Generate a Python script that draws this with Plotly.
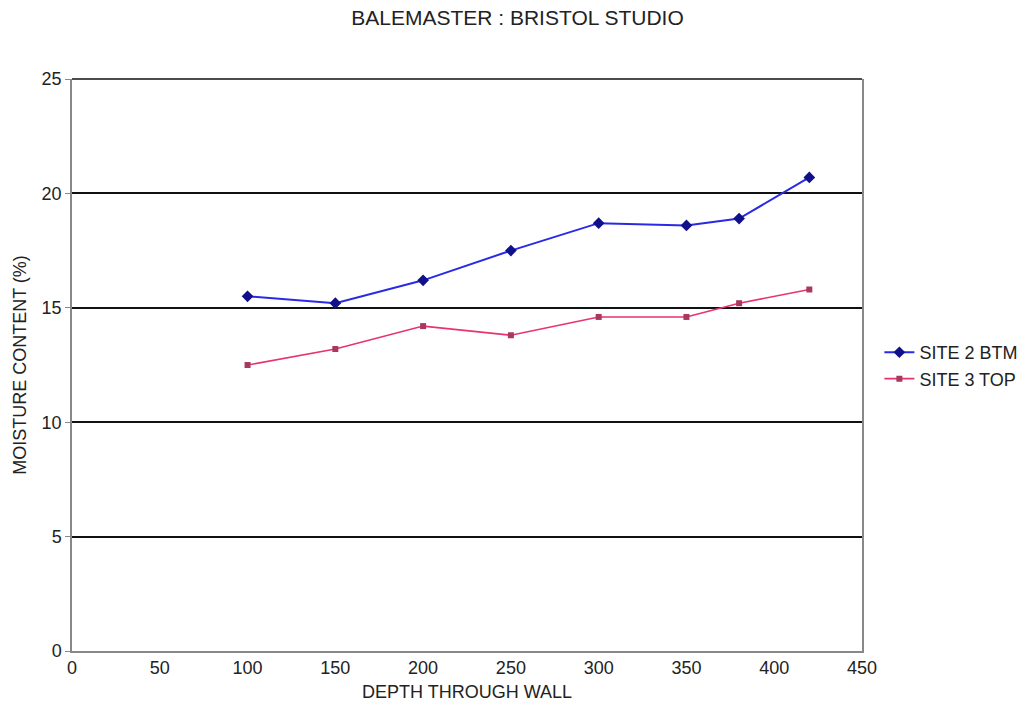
import plotly.graph_objects as go

# Sensor depth (mm) through the bale wall
depth = [100, 150, 200, 250, 300, 350, 380, 420]

# Moisture content (%) readings at each depth
site2_btm = [15.5, 15.2, 16.2, 17.5, 18.7, 18.6, 18.9, 20.7]
site3_top = [12.5, 13.2, 14.2, 13.8, 14.6, 14.6, 15.2, 15.8]

x_ticks = [0, 50, 100, 150, 200, 250, 300, 350, 400, 450]
y_ticks = [0, 5, 10, 15, 20, 25]

font_family = "Liberation Sans, Arial, sans-serif"

fig = go.Figure()
fig.add_trace(go.Scatter(
    x=depth, y=site2_btm, name="SITE 2 BTM", mode="lines+markers",
    line=dict(color="#2a2ae6", width=2),
    marker=dict(symbol="diamond", size=9, color="#10108a"),
))
fig.add_trace(go.Scatter(
    x=depth, y=site3_top, name="SITE 3 TOP", mode="lines+markers",
    line=dict(color="#e8336b", width=1.6),
    marker=dict(symbol="square", size=6, color="#a83860"),
))

# Top edge of the plot area drawn like the major gridlines
fig.add_shape(type="line", xref="x domain", yref="y domain",
              x0=0, x1=1, y0=1, y1=1,
              line=dict(color="#111111", width=1.5))

fig.update_layout(
    width=1035, height=722,
    margin=dict(l=72, r=173, t=79, b=71),
    paper_bgcolor="white", plot_bgcolor="white",
    font=dict(family=font_family, size=18, color="#222222"),
    title=dict(text="BALEMASTER : BRISTOL STUDIO", x=0.5, xanchor="center",
               y=1 - 18 / 722, yanchor="middle",
               font=dict(size=21, color="#222222")),
    showlegend=True,
    legend=dict(x=1.022, y=0.499, xanchor="left", yanchor="middle",
                font=dict(size=18, color="#222222"),
                bgcolor="rgba(0,0,0,0)"),
    xaxis=dict(
        range=[0, 450], tickvals=x_ticks, showgrid=False, zeroline=False,
        showline=True, linecolor="#888888", linewidth=1.5, mirror=False,
        ticks="", ticklen=0,
        title=dict(text="DEPTH THROUGH WALL", standoff=8, font=dict(size=18)),
    ),
    yaxis=dict(
        range=[0, 25], tickvals=y_ticks, showgrid=True, gridcolor="#111111",
        gridwidth=1.5, zeroline=False,
        showline=True, linecolor="#888888", linewidth=1.5, mirror=True,
        ticks="outside", ticklen=5, tickcolor="#888888",
        title=dict(text="MOISTURE CONTENT (%)", standoff=10, font=dict(size=18)),
    ),
)

fig.write_html("out.html")
